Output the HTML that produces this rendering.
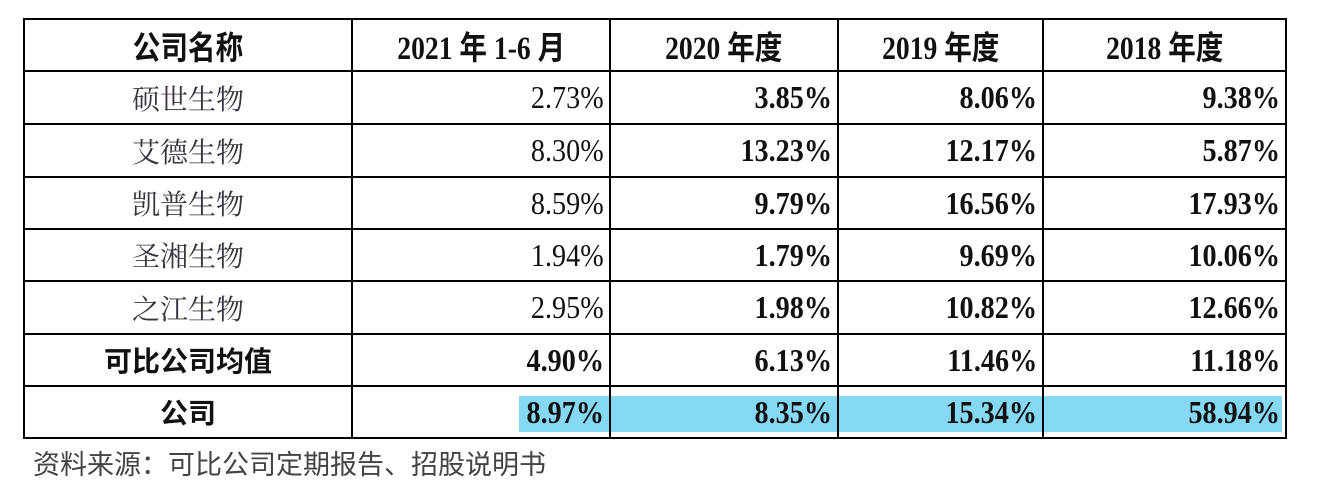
<!DOCTYPE html>
<html><head><meta charset="utf-8"><style>
body{margin:0;width:1322px;height:482px;background:#fff;position:relative;overflow:hidden;font-family:"Liberation Serif","Noto Serif CJK SC",serif;}
.c{position:absolute;box-sizing:border-box;display:flex;align-items:center;font-size:29px;color:#111;}
.c span{display:inline-block;}
.l{position:absolute;background:#000;}
.hl{position:absolute;background:#86d9f5;}
.h{font-weight:bold;justify-content:center;font-family:"Liberation Serif","Noto Sans CJK SC",serif;font-size:30px;}
.h span{transform:scale(0.92,1.08);}
.n{justify-content:flex-end;padding-right:6px;font-size:32px;}
.n span{transform:scaleX(0.88);transform-origin:right center;}
.b{font-weight:bold;}
.nm{justify-content:center;color:#3a3340;font-family:"Noto Serif CJK SC",serif;font-size:28px;}
.nb{justify-content:center;font-weight:bold;font-family:"Noto Sans CJK SC",sans-serif;font-size:28px;}
#foot{position:absolute;left:33px;top:443px;font-size:27px;color:#444;font-family:"Noto Sans CJK SC",sans-serif;}
</style></head><body>
<div id="t"></div>
<div id="foot">资料来源：可比公司定期报告、招股说明书</div>
<script>
const cols=[24,352,610,838,1043,1286];
const rows=[19,71,124,177,229,281,334,386,438];
const headers=["公司名称","2021 年 1-6 月","2020 年度","2019 年度","2018 年度"];
const names=["硕世生物","艾德生物","凯普生物","圣湘生物","之江生物","可比公司均值","公司"];
const v2021=["2.73%","8.30%","8.59%","1.94%","2.95%","4.90%","8.97%"];
const v2020=["3.85%","13.23%","9.79%","1.79%","1.98%","6.13%","8.35%"];
const v2019=["8.06%","12.17%","16.56%","9.69%","10.82%","11.46%","15.34%"];
const v2018=["9.38%","5.87%","17.93%","10.06%","12.66%","11.18%","58.94%"];
const t=document.getElementById('t');
function add(cls,x,y,w,h,txt){const d=document.createElement('div');d.className=cls;d.style.left=x+'px';d.style.top=y+'px';d.style.width=w+'px';d.style.height=h+'px';if(txt!==undefined){const s=document.createElement('span');s.textContent=txt;d.appendChild(s);}t.appendChild(d);return d;}
let hl=add('hl',519,396,763,36);


headers.forEach((h,i)=>{const d=add('c h',cols[i],rows[0],cols[i+1]-cols[i],rows[1]-rows[0],h);

});
const vals=[v2021,v2020,v2019,v2018];
names.forEach((n,r)=>{const y=rows[r+1],hh=rows[r+2]-rows[r+1];
const bold=r>=5;
const d=add('c '+(bold?'nb':'nm'),cols[0],y,cols[1]-cols[0],hh,n);


vals.forEach((arr,c)=>{const b=(c>0||bold)?' b':'';
const e=add('c n'+b,cols[c+1],y,cols[c+2]-cols[c+1],hh,arr[r]);

});});
cols.forEach(x=>{const l=add('l',x-1,rows[0]-1,2,rows[rows.length-1]-rows[0]+2);

});
rows.forEach(y=>{const l=add('l',cols[0]-1,y-1,cols[cols.length-1]-cols[0]+2,2);

});
</script>
</body></html>
